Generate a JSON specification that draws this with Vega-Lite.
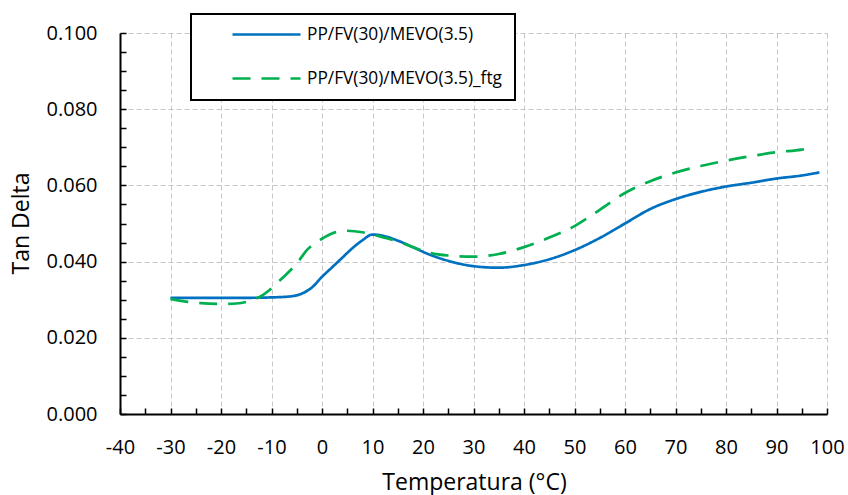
{
  "$schema": "https://vega.github.io/schema/vega-lite/v6.json",
  "width": 707,
  "height": 381,
  "autosize": {"type": "none"},
  "padding": {"left": 120, "top": 33, "right": 21, "bottom": 81},
  "background": "white",
  "config": {"font": "Open Sans", "view": {"stroke": null}, "legend": {"strokeWidth": 2}},
  "data": {"values": [
    {"T": -30, "v": 0.0305, "s": "PP/FV(30)/MEVO(3.5)"},
    {"T": -25, "v": 0.0305, "s": "PP/FV(30)/MEVO(3.5)"},
    {"T": -20, "v": 0.0305, "s": "PP/FV(30)/MEVO(3.5)"},
    {"T": -15, "v": 0.0305, "s": "PP/FV(30)/MEVO(3.5)"},
    {"T": -10, "v": 0.0306, "s": "PP/FV(30)/MEVO(3.5)"},
    {"T": -6, "v": 0.0309, "s": "PP/FV(30)/MEVO(3.5)"},
    {"T": -4, "v": 0.0316, "s": "PP/FV(30)/MEVO(3.5)"},
    {"T": -2, "v": 0.0332, "s": "PP/FV(30)/MEVO(3.5)"},
    {"T": 0, "v": 0.0360, "s": "PP/FV(30)/MEVO(3.5)"},
    {"T": 2, "v": 0.0385, "s": "PP/FV(30)/MEVO(3.5)"},
    {"T": 4, "v": 0.0410, "s": "PP/FV(30)/MEVO(3.5)"},
    {"T": 6, "v": 0.0435, "s": "PP/FV(30)/MEVO(3.5)"},
    {"T": 8, "v": 0.0456, "s": "PP/FV(30)/MEVO(3.5)"},
    {"T": 10, "v": 0.0471, "s": "PP/FV(30)/MEVO(3.5)"},
    {"T": 12, "v": 0.0468, "s": "PP/FV(30)/MEVO(3.5)"},
    {"T": 15, "v": 0.0455, "s": "PP/FV(30)/MEVO(3.5)"},
    {"T": 18, "v": 0.0438, "s": "PP/FV(30)/MEVO(3.5)"},
    {"T": 21, "v": 0.0420, "s": "PP/FV(30)/MEVO(3.5)"},
    {"T": 25, "v": 0.0402, "s": "PP/FV(30)/MEVO(3.5)"},
    {"T": 30, "v": 0.0388, "s": "PP/FV(30)/MEVO(3.5)"},
    {"T": 35, "v": 0.0384, "s": "PP/FV(30)/MEVO(3.5)"},
    {"T": 40, "v": 0.0391, "s": "PP/FV(30)/MEVO(3.5)"},
    {"T": 45, "v": 0.0406, "s": "PP/FV(30)/MEVO(3.5)"},
    {"T": 50, "v": 0.0430, "s": "PP/FV(30)/MEVO(3.5)"},
    {"T": 55, "v": 0.0462, "s": "PP/FV(30)/MEVO(3.5)"},
    {"T": 60, "v": 0.0500, "s": "PP/FV(30)/MEVO(3.5)"},
    {"T": 65, "v": 0.0538, "s": "PP/FV(30)/MEVO(3.5)"},
    {"T": 70, "v": 0.0564, "s": "PP/FV(30)/MEVO(3.5)"},
    {"T": 75, "v": 0.0583, "s": "PP/FV(30)/MEVO(3.5)"},
    {"T": 80, "v": 0.0597, "s": "PP/FV(30)/MEVO(3.5)"},
    {"T": 85, "v": 0.0607, "s": "PP/FV(30)/MEVO(3.5)"},
    {"T": 90, "v": 0.0618, "s": "PP/FV(30)/MEVO(3.5)"},
    {"T": 95, "v": 0.0626, "s": "PP/FV(30)/MEVO(3.5)"},
    {"T": 98.5, "v": 0.0634, "s": "PP/FV(30)/MEVO(3.5)"},
    {"T": -30, "v": 0.0302, "s": "PP/FV(30)/MEVO(3.5)_ftg"},
    {"T": -27, "v": 0.0295, "s": "PP/FV(30)/MEVO(3.5)_ftg"},
    {"T": -24, "v": 0.0291, "s": "PP/FV(30)/MEVO(3.5)_ftg"},
    {"T": -20, "v": 0.0289, "s": "PP/FV(30)/MEVO(3.5)_ftg"},
    {"T": -17, "v": 0.0290, "s": "PP/FV(30)/MEVO(3.5)_ftg"},
    {"T": -14, "v": 0.0298, "s": "PP/FV(30)/MEVO(3.5)_ftg"},
    {"T": -12, "v": 0.0310, "s": "PP/FV(30)/MEVO(3.5)_ftg"},
    {"T": -10, "v": 0.0330, "s": "PP/FV(30)/MEVO(3.5)_ftg"},
    {"T": -8, "v": 0.0355, "s": "PP/FV(30)/MEVO(3.5)_ftg"},
    {"T": -5, "v": 0.0395, "s": "PP/FV(30)/MEVO(3.5)_ftg"},
    {"T": -3, "v": 0.0430, "s": "PP/FV(30)/MEVO(3.5)_ftg"},
    {"T": 0, "v": 0.0460, "s": "PP/FV(30)/MEVO(3.5)_ftg"},
    {"T": 2, "v": 0.0474, "s": "PP/FV(30)/MEVO(3.5)_ftg"},
    {"T": 5, "v": 0.0481, "s": "PP/FV(30)/MEVO(3.5)_ftg"},
    {"T": 8, "v": 0.0477, "s": "PP/FV(30)/MEVO(3.5)_ftg"},
    {"T": 10, "v": 0.0471, "s": "PP/FV(30)/MEVO(3.5)_ftg"},
    {"T": 12, "v": 0.0464, "s": "PP/FV(30)/MEVO(3.5)_ftg"},
    {"T": 15, "v": 0.0453, "s": "PP/FV(30)/MEVO(3.5)_ftg"},
    {"T": 18, "v": 0.0438, "s": "PP/FV(30)/MEVO(3.5)_ftg"},
    {"T": 21, "v": 0.0424, "s": "PP/FV(30)/MEVO(3.5)_ftg"},
    {"T": 25, "v": 0.0416, "s": "PP/FV(30)/MEVO(3.5)_ftg"},
    {"T": 30, "v": 0.0413, "s": "PP/FV(30)/MEVO(3.5)_ftg"},
    {"T": 35, "v": 0.0420, "s": "PP/FV(30)/MEVO(3.5)_ftg"},
    {"T": 40, "v": 0.0438, "s": "PP/FV(30)/MEVO(3.5)_ftg"},
    {"T": 45, "v": 0.0463, "s": "PP/FV(30)/MEVO(3.5)_ftg"},
    {"T": 50, "v": 0.0493, "s": "PP/FV(30)/MEVO(3.5)_ftg"},
    {"T": 55, "v": 0.0536, "s": "PP/FV(30)/MEVO(3.5)_ftg"},
    {"T": 60, "v": 0.0580, "s": "PP/FV(30)/MEVO(3.5)_ftg"},
    {"T": 65, "v": 0.0611, "s": "PP/FV(30)/MEVO(3.5)_ftg"},
    {"T": 70, "v": 0.0634, "s": "PP/FV(30)/MEVO(3.5)_ftg"},
    {"T": 75, "v": 0.0651, "s": "PP/FV(30)/MEVO(3.5)_ftg"},
    {"T": 80, "v": 0.0665, "s": "PP/FV(30)/MEVO(3.5)_ftg"},
    {"T": 85, "v": 0.0677, "s": "PP/FV(30)/MEVO(3.5)_ftg"},
    {"T": 90, "v": 0.0687, "s": "PP/FV(30)/MEVO(3.5)_ftg"},
    {"T": 95, "v": 0.0694, "s": "PP/FV(30)/MEVO(3.5)_ftg"},
    {"T": 97.5, "v": 0.0700, "s": "PP/FV(30)/MEVO(3.5)_ftg"}
  ]},
  "mark": {"type": "line", "strokeWidth": 2.7, "interpolate": "monotone"},
  "encoding": {
    "x": {
      "field": "T", "type": "quantitative",
      "scale": {"domain": [-40, 100], "nice": false, "zero": false},
      "axis": {
        "title": "Temperatura (°C)",
        "titleFontSize": 23, "titleFontWeight": "normal", "titleColor": "black",
        "titleX": 354, "titleY": 75, "titleBaseline": "alphabetic",
        "values": [-40,-35,-30,-25,-20,-15,-10,-5,0,5,10,15,20,25,30,35,40,45,50,55,60,65,70,75,80,85,90,95,100],
        "labelExpr": "datum.value % 10 === 0 ? '' + datum.value : ''",
        "labelFontSize": 20, "labelColor": "black", "labelPadding": 29, "labelFlush": false, "labelOverlap": false,
        "domainColor": "black", "domainWidth": 2,
        "tickColor": "black", "tickWidth": 1.5, "tickSize": -6,
        "grid": true, "gridColor": "#c6c6c6", "gridDash": [5, 3], "gridWidth": 1,
        "gridOpacity": {"condition": {"test": "datum.value % 10 !== 0", "value": 0}, "value": 1}
      }
    },
    "y": {
      "field": "v", "type": "quantitative",
      "scale": {"domain": [0, 0.1], "nice": false},
      "axis": {
        "title": "Tan Delta",
        "titleFontSize": 23, "titleFontWeight": "normal", "titleColor": "black",
        "titleX": -92, "titleY": 190, "titleBaseline": "alphabetic",
        "values": [0,0.005,0.01,0.015,0.02,0.025,0.03,0.035,0.04,0.045,0.05,0.055,0.06,0.065,0.07,0.075,0.08,0.085,0.09,0.095,0.1],
        "labelExpr": "round(datum.value * 1000) % 20 === 0 ? format(datum.value, '.3f') : ''",
        "labelFontSize": 20, "labelColor": "black", "labelPadding": 29, "labelOverlap": false, "labelFlush": false,
        "domainColor": "black", "domainWidth": 2,
        "tickColor": "black", "tickWidth": 1.5, "tickSize": -6,
        "grid": true, "gridColor": "#c6c6c6", "gridDash": [5, 3], "gridWidth": 1,
        "gridOpacity": {"condition": {"test": "round(datum.value * 1000) % 20 !== 0", "value": 0}, "value": 1}
      }
    },
    "color": {
      "field": "s", "type": "nominal",
      "scale": {"domain": ["PP/FV(30)/MEVO(3.5)", "PP/FV(30)/MEVO(3.5)_ftg"], "range": ["#0070C0", "#00B050"]},
      "legend": {
        "title": null, "orient": "none", "legendX": 71, "legendY": -19,
        "fillColor": "white", "strokeColor": "black",
        "padding": 13, "symbolOffset": 27, "clipHeight": 15,
        "symbolType": "stroke", "symbolSize": 4624, "symbolStrokeWidth": 2.7,
        "labelFontSize": 17.3, "labelColor": "black", "labelLimit": 400, "labelOffset": 5,
        "rowPadding": 26
      }
    },
    "strokeDash": {
      "field": "s", "type": "nominal",
      "scale": {"domain": ["PP/FV(30)/MEVO(3.5)", "PP/FV(30)/MEVO(3.5)_ftg"], "range": [[1, 0], [18, 11]]},
      "legend": {
        "title": null, "orient": "none", "legendX": 71, "legendY": -19,
        "fillColor": "white", "strokeColor": "black",
        "padding": 13, "symbolOffset": 27, "clipHeight": 15,
        "symbolType": "stroke", "symbolSize": 4624, "symbolStrokeWidth": 2.7,
        "labelFontSize": 17.3, "labelColor": "black", "labelLimit": 400, "labelOffset": 5,
        "rowPadding": 26
      }
    }
  }
}
